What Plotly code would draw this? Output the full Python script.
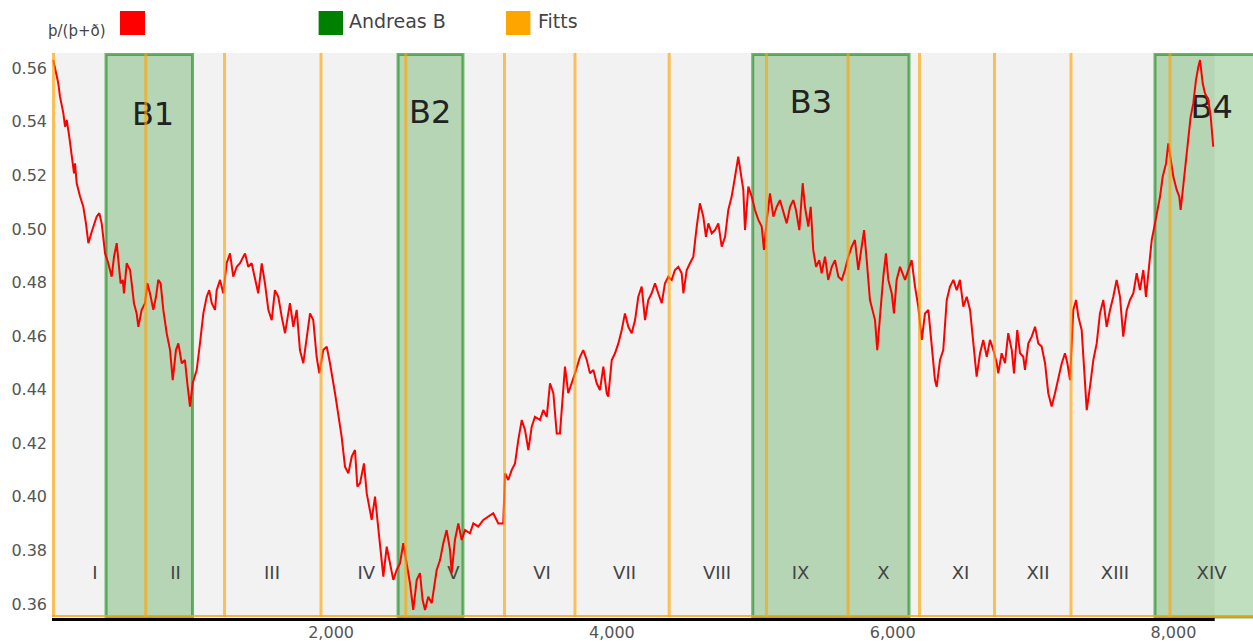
import plotly.graph_objects as go

# Running position in the text and the þ/(þ+ð) ratio measured there
pos = [21, 57, 69, 93, 105, 117, 135, 152, 169, 176, 188, 212, 235, 254, 271, 295, 330, 349, 366, 390,
       413, 437, 454, 473, 484, 501, 516, 525, 544, 568, 580, 596, 615, 627, 651, 675, 691, 710, 734, 753,
       769, 786, 805, 829, 853, 872, 895, 912, 936, 959, 976, 995, 1014, 1043, 1066, 1090, 1114, 1132, 1150, 1173,
       1185, 1209, 1232, 1256, 1280, 1303, 1328, 1351, 1387, 1410, 1434, 1470, 1481, 1506, 1529, 1553, 1577, 1600, 1624, 1648,
       1672, 1707, 1731, 1755, 1778, 1802, 1826, 1850, 1873, 1897, 1916, 1944, 1969, 1992, 2028, 2051, 2075, 2099, 2123, 2147,
       2170, 2187, 2206, 2234, 2254, 2289, 2313, 2325, 2348, 2372, 2396, 2420, 2443, 2467, 2491, 2514, 2533, 2562, 2585, 2610,
       2633, 2652, 2669, 2692, 2717, 2735, 2752, 2776, 2799, 2823, 2847, 2859, 2882, 2906, 2930, 2954, 2989, 3013, 3048, 3084,
       3120, 3155, 3191, 3226, 3239, 3262, 3286, 3310, 3333, 3358, 3381, 3405, 3429, 3452, 3488, 3511, 3536, 3559, 3583, 3607,
       3630, 3666, 3689, 3714, 3737, 3773, 3796, 3821, 3844, 3868, 3892, 3915, 3939, 3963, 3974, 3999, 4022, 4046, 4070, 4093,
       4117, 4141, 4165, 4188, 4212, 4236, 4259, 4283, 4307, 4330, 4355, 4378, 4402, 4426, 4449, 4473, 4497, 4509, 4533, 4556,
       4580, 4604, 4627, 4651, 4670, 4687, 4711, 4734, 4758, 4782, 4806, 4829, 4853, 4877, 4900, 4936, 4948, 4972, 4996, 5019,
       5043, 5067, 5083, 5103, 5126, 5150, 5174, 5197, 5221, 5245, 5269, 5292, 5311, 5335, 5359, 5375, 5399, 5416, 5434, 5454,
       5477, 5494, 5518, 5541, 5566, 5589, 5613, 5637, 5660, 5684, 5708, 5731, 5755, 5779, 5796, 5815, 5838, 5862, 5874, 5890,
       5910, 5933, 5952, 5969, 5993, 6009, 6028, 6052, 6088, 6111, 6135, 6159, 6182, 6207, 6230, 6254, 6278, 6301, 6313, 6337,
       6360, 6385, 6408, 6432, 6456, 6479, 6503, 6527, 6551, 6570, 6586, 6598, 6622, 6645, 6670, 6693, 6717, 6741, 6752, 6776,
       6800, 6823, 6848, 6864, 6887, 6907, 6930, 6942, 6966, 6990, 7014, 7037, 7061, 7085, 7108, 7132, 7156, 7179, 7204, 7227,
       7244, 7263, 7286, 7306, 7322, 7346, 7370, 7382, 7405, 7429, 7453, 7476, 7500, 7524, 7548, 7571, 7595, 7619, 7642, 7667,
       7690, 7714, 7738, 7761, 7785, 7804, 7828, 7845, 7868, 7904, 7923, 7947, 7963, 7980, 7999, 8023, 8041, 8051, 8070, 8089,
       8105, 8122, 8141, 8160, 8177, 8189, 8208, 8224, 8248, 8265, 8283]

ratio = [0.5631, 0.5544, 0.5494, 0.5432, 0.5382, 0.5407, 0.5345, 0.5270, 0.5208, 0.5245, 0.5171, 0.5121, 0.5083, 0.5021, 0.4947, 0.4990, 0.5046, 0.5059, 0.5021, 0.4909,
         0.4872, 0.4822, 0.4897, 0.4947, 0.4897, 0.4797, 0.4810, 0.4760, 0.4872, 0.4847, 0.4797, 0.4723, 0.4685, 0.4635, 0.4698, 0.4723, 0.4797, 0.4760, 0.4698, 0.4747,
         0.4810, 0.4797, 0.4698, 0.4611, 0.4548, 0.4436, 0.4548, 0.4573, 0.4499, 0.4511, 0.4424, 0.4337, 0.4424, 0.4474, 0.4573, 0.4685, 0.4747, 0.4772, 0.4723, 0.4698,
         0.4772, 0.4810, 0.4760, 0.4872, 0.4909, 0.4822, 0.4859, 0.4872, 0.4909, 0.4859, 0.4872, 0.4785, 0.4760, 0.4872, 0.4797, 0.4698, 0.4660, 0.4772, 0.4747, 0.4673,
         0.4611, 0.4723, 0.4635, 0.4698, 0.4548, 0.4499, 0.4586, 0.4685, 0.4660, 0.4523, 0.4461, 0.4548, 0.4561, 0.4499, 0.4387, 0.4312, 0.4225, 0.4113, 0.4088, 0.4150,
         0.4175, 0.4038, 0.4051, 0.4125, 0.4013, 0.3914, 0.4001, 0.3939, 0.3814, 0.3702, 0.3814, 0.3752, 0.3690, 0.3727, 0.3752, 0.3827, 0.3764, 0.3677, 0.3578, 0.3690,
         0.3715, 0.3615, 0.3578, 0.3627, 0.3603, 0.3677, 0.3727, 0.3764, 0.3827, 0.3876, 0.3802, 0.3715, 0.3839, 0.3901, 0.3839, 0.3876, 0.3864, 0.3901, 0.3889, 0.3914,
         0.3926, 0.3939, 0.3901, 0.3901, 0.4088, 0.4063, 0.4100, 0.4125, 0.4212, 0.4287, 0.4250, 0.4175, 0.4262, 0.4299, 0.4287, 0.4324, 0.4299, 0.4424, 0.4387, 0.4237,
         0.4237, 0.4486, 0.4387, 0.4424, 0.4461, 0.4523, 0.4548, 0.4511, 0.4461, 0.4474, 0.4424, 0.4399, 0.4486, 0.4387, 0.4374, 0.4511, 0.4536, 0.4573, 0.4623, 0.4685,
         0.4635, 0.4611, 0.4660, 0.4747, 0.4785, 0.4660, 0.4735, 0.4760, 0.4797, 0.4760, 0.4723, 0.4797, 0.4822, 0.4810, 0.4847, 0.4859, 0.4835, 0.4760, 0.4847, 0.4872,
         0.4897, 0.5009, 0.5096, 0.5046, 0.4971, 0.5021, 0.4984, 0.4996, 0.5021, 0.4934, 0.4971, 0.5071, 0.5121, 0.5195, 0.5270, 0.5146, 0.4996, 0.5158, 0.5121, 0.5071,
         0.5034, 0.5009, 0.4922, 0.5034, 0.5133, 0.5046, 0.5083, 0.5108, 0.5059, 0.5021, 0.5083, 0.5108, 0.5071, 0.4996, 0.5171, 0.5083, 0.5009, 0.5083, 0.4922, 0.4859,
         0.4884, 0.4835, 0.4897, 0.4810, 0.4859, 0.4884, 0.4822, 0.4810, 0.4847, 0.4897, 0.4934, 0.4959, 0.4847, 0.4934, 0.4996, 0.4884, 0.4735, 0.4685, 0.4660, 0.4548,
         0.4685, 0.4822, 0.4909, 0.4810, 0.4760, 0.4685, 0.4810, 0.4859, 0.4810, 0.4847, 0.4884, 0.4785, 0.4710, 0.4586, 0.4685, 0.4698, 0.4561, 0.4436, 0.4411, 0.4511,
         0.4548, 0.4735, 0.4785, 0.4810, 0.4772, 0.4810, 0.4710, 0.4747, 0.4698, 0.4586, 0.4511, 0.4449, 0.4536, 0.4586, 0.4523, 0.4586, 0.4548, 0.4499, 0.4461, 0.4536,
         0.4499, 0.4611, 0.4548, 0.4461, 0.4623, 0.4536, 0.4523, 0.4474, 0.4573, 0.4598, 0.4635, 0.4573, 0.4561, 0.4499, 0.4387, 0.4337, 0.4387, 0.4436, 0.4499, 0.4536,
         0.4499, 0.4436, 0.4698, 0.4735, 0.4673, 0.4623, 0.4424, 0.4324, 0.4411, 0.4511, 0.4573, 0.4685, 0.4735, 0.4635, 0.4698, 0.4747, 0.4810, 0.4747, 0.4598, 0.4698,
         0.4735, 0.4760, 0.4835, 0.4772, 0.4847, 0.4747, 0.4872, 0.4959, 0.5021, 0.5121, 0.5195, 0.5245, 0.5320, 0.5258, 0.5195, 0.5146, 0.5121, 0.5071, 0.5171, 0.5270,
         0.5345, 0.5419, 0.5469, 0.5556, 0.5606, 0.5631, 0.5544, 0.5507, 0.5482, 0.5419, 0.5307]

# Fitts (sections): start positions, names and where each name is printed
fitt_starts = [23, 680, 1241, 1928, 2532, 3235, 3737, 4408, 5101, 5682, 6191, 6725, 7270, 7975]
fitt_names = ["I", "II", "III", "IV", "V", "VI", "VII", "VIII", "IX", "X", "XI", "XII", "XIII", "XIV"]
fitt_label_x = [318, 892, 1579, 2251, 2872, 3502, 4090, 4749, 5343, 5933, 6483, 7035, 7583, 8271]
fitt_label_y = 0.3709

# Andreas B passages
andreas_names = ["B1", "B2", "B3", "B4"]
andreas_start = [397, 2477, 5003, 7868]
andreas_end = [1013, 2939, 6116, 8700]
andreas_label_x = [732, 2705, 5418, 8272]
andreas_label_y = [0.5418, 0.5426, 0.5463, 0.5446]

text_end = 8293
x_range = [12.1, 8566.2]
y_range = [0.35515, 0.56571]

FONT = "DejaVu Sans"
RED = "#ff0000"
GREEN = "#008000"
ORANGE = "#ffa500"

W, H = 1253, 643
ML, MR, MT, MB = 52, 0, 53, 26
PW = W - ML - MR
PH = H - MT - MB


def px_x(v):
    return (v - ML) / PW


def px_y(v):
    return (H - MB - v) / PH


fig = go.Figure()

# section names and passage names sit underneath the curve
fig.add_trace(go.Scatter(
    x=fitt_label_x, y=[fitt_label_y] * len(fitt_label_x), text=fitt_names,
    mode="text", textposition="middle center",
    textfont=dict(family=FONT, size=18, color="#444444"),
    hoverinfo="skip", showlegend=False))
fig.add_trace(go.Scatter(
    x=andreas_label_x, y=andreas_label_y, text=andreas_names,
    mode="text", textposition="middle center",
    textfont=dict(family=FONT, size=32, color="#222222"),
    hoverinfo="skip", showlegend=False))

fig.add_trace(go.Scatter(
    x=pos, y=ratio, mode="lines", name="þ/(þ+ð)",
    line=dict(color=RED, width=2), showlegend=False))

shapes = []
# grey text area
shapes.append(dict(type="rect", xref="x", yref="paper", x0=x_range[0], x1=text_end, y0=0, y1=1,
                   fillcolor="#f2f2f2", line=dict(width=0), layer="below"))
# Andreas B boxes
for s, e in zip(andreas_start, andreas_end):
    shapes.append(dict(type="rect", xref="x", yref="paper", x0=s, x1=e, y0=0, y1=1 - 1.5 / PH,
                       fillcolor="rgba(0,128,0,0.25)",
                       line=dict(color="rgba(0,128,0,0.55)", width=3), layer="below"))
# Fitts boundaries
for f in fitt_starts:
    shapes.append(dict(type="line", xref="x", yref="paper", x0=f, x1=f, y0=0, y1=1,
                       line=dict(color="rgba(255,165,0,0.65)", width=3), layer="above"))
# base lines
shapes.append(dict(type="line", xref="paper", yref="paper", x0=0, x1=1, y0=1 / PH, y1=1 / PH,
                   line=dict(color="rgba(255,165,0,0.8)", width=2), layer="above"))
shapes.append(dict(type="line", xref="paper", yref="paper", x0=0, x1=px_x(1214.7),
                   y0=-2.5 / PH, y1=-2.5 / PH, line=dict(color="#000000", width=3), layer="above"))

# legend swatches
for (x0, x1), col in [((120, 145), RED), ((318.6, 343), GREEN), ((506, 530.4), ORANGE)]:
    shapes.append(dict(type="rect", xref="paper", yref="paper",
                       x0=px_x(x0), x1=px_x(x1), y0=px_y(35), y1=px_y(11),
                       fillcolor=col, line=dict(width=0)))

annotations = [
    dict(text="þ/(þ+ð)", xref="paper", yref="paper", x=px_x(46), y=px_y(31),
         xanchor="left", yanchor="middle", showarrow=False,
         font=dict(family=FONT, size=15, color="#444444")),
    dict(text="Andreas B", xref="paper", yref="paper", x=px_x(347), y=px_y(21),
         xanchor="left", yanchor="middle", showarrow=False,
         font=dict(family=FONT, size=19, color="#444444")),
    dict(text="Fitts", xref="paper", yref="paper", x=px_x(536), y=px_y(21),
         xanchor="left", yanchor="middle", showarrow=False,
         font=dict(family=FONT, size=19, color="#444444")),
]

fig.update_layout(
    width=W, height=H,
    margin=dict(l=ML, r=MR, t=MT, b=MB, pad=0),
    paper_bgcolor="#ffffff", plot_bgcolor="#ffffff",
    shapes=shapes, annotations=annotations,
    showlegend=False,
    xaxis=dict(range=x_range, showgrid=False, zeroline=False, showline=False,
               tickvals=[2000, 4000, 6000, 8000], tickformat=",d", ticks="",
               ticklabelstandoff=4,
               tickfont=dict(family=FONT, size=16, color="#555555")),
    yaxis=dict(range=y_range, showgrid=False, zeroline=False, showline=False,
               tickvals=[0.36, 0.38, 0.40, 0.42, 0.44, 0.46, 0.48, 0.50, 0.52, 0.54, 0.56],
               tickformat=".2f", ticks="", ticklabelstandoff=4,
               tickfont=dict(family=FONT, size=16, color="#555555")),
)

fig.write_html("out.html")
